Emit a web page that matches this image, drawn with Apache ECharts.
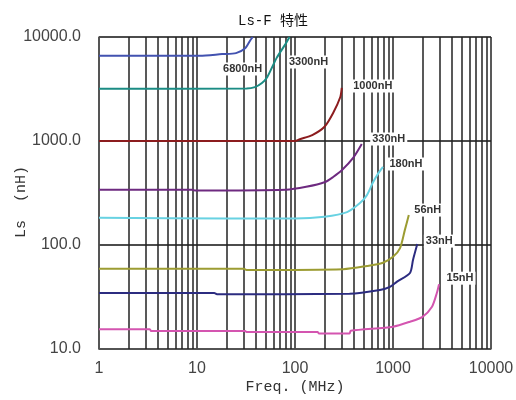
<!DOCTYPE html>
<html><head><meta charset="utf-8">
<script src="https://cdn.jsdelivr.net/npm/echarts@6/dist/echarts.min.js"></script>
<style>html,body{margin:0;padding:0;background:#fff}#c{width:516px;height:400px}</style>
</head><body><div id="c"></div>
<script>
// ---- data ----
const seriesNames = ['6800nH','3300nH','1000nH','330nH','180nH','56nH','33nH','15nH'];

const freq6800 = [1, 10.7, 18, 25, 31, 35, 37];
const ls6800   = [6600, 6600, 6850, 7000, 7800, 9300, 10000];

const freq3300 = [1, 32, 39, 46, 52, 65, 79, 88];
const ls3300   = [3180, 3200, 3300, 3610, 4100, 6300, 8400, 10000];

const freq1000 = [1, 100, 112, 150, 200, 245, 290, 300];
const ls1000   = [1000, 1000, 1040, 1140, 1370, 1860, 2650, 3240];

const freq330 = [1, 9, 9.5, 80, 130, 203, 245, 302, 392, 480];
const ls330   = [340, 340, 334, 340, 363, 404, 451, 526, 687, 935];

const freq180 = [1, 20, 100, 200, 340, 460, 540, 620, 700, 790];
const ls180   = [183, 180, 180, 187, 207, 253, 300, 394, 480, 563];

const freq56 = [1, 30, 32, 310, 540, 790, 1000, 1180, 1320, 1450];
const ls56   = [59, 59, 57.5, 58.5, 62.8, 67.6, 77, 93.5, 139, 194];

const freq33 = [1, 15, 16, 360, 735, 930, 1100, 1490, 1600, 1770];
const ls33   = [34.5, 34.5, 33.6, 34, 36.9, 39.5, 44.4, 53.8, 71.8, 102];

const freq15 = [1, 3.3, 3.4, 31, 32, 170, 175, 360, 370, 1000, 1490, 2000, 2500, 2800, 2950];
const ls15   = [15.5, 15.5, 14.9, 14.9, 14.6, 14.6, 14.1, 14.1, 15, 16.4, 18.3, 20.4, 25.5, 34.5, 42];

const xTickLabels = ['1','10','100','1000','10000'];
const yTickLabels = ['10.0','100.0','1000.0','10000.0'];

// ---- styling ----
const colors = ['#4252b0','#1b8c84','#8c1c1e','#6e2a80','#68d2e2','#9c9c32','#2c2c80','#d455b0'];
const labelOffsets = [[-10,32],[19,25],[31,-2],[27,-5],[23,-3],[19,-5],[22,-3],[21,-6]];
const freqs = [freq6800,freq3300,freq1000,freq330,freq180,freq56,freq33,freq15];
const vals  = [ls6800,ls3300,ls1000,ls330,ls180,ls56,ls33,ls15];

// minor vertical grid values (2..9 per decade)
const minorX = [];
for (let d = 1; d < 10000; d *= 10) for (let m = 2; m <= 9; m++) minorX.push(m * d);

const series = seriesNames.map((n, i) => ({
  name: n, type: 'line', z: 5,
  data: freqs[i].map((f, j) => [f, vals[i][j]]),
  showSymbol: false, smooth: 0.25,
  lineStyle: { color: colors[i], width: 2 },
  itemStyle: { color: colors[i] },
  endLabel: {
    show: true, formatter: '{a}', align: 'center', verticalAlign: 'middle',
    distance: 0, offset: labelOffsets[i],
    color: '#333', fontSize: 11, fontWeight: 'bold', fontFamily: 'Liberation Sans',
    backgroundColor: '#fff', padding: [1, 2]
  }
}));
series.unshift({
  type: 'line', data: [], z: 1, silent: true,
  markLine: {
    silent: true, symbol: ['none','none'], label: { show: false },
    lineStyle: { color: '#222', width: 1.5, type: 'solid' },
    data: minorX.map(v => ({ xAxis: v })), animation: false
  }
});

const chart = echarts.init(document.getElementById('c'));
chart.setOption({
  animation: false,
  backgroundColor: '#fff',
  title: {
    text: 'Ls-F 特性', left: 268, top: 9, textAlign: 'center',
    textStyle: { fontFamily: 'Liberation Mono, Noto Sans CJK SC', fontSize: 14, fontWeight: 'normal', color: '#111' }
  },
  grid: { left: 99, right: 25, top: 37, bottom: 51, containLabel: false, outerBoundsMode: 'none' },
  xAxis: {
    type: 'log', logBase: 10, min: 1, max: 10000,
    name: 'Freq. (MHz)', nameLocation: 'middle', nameGap: 31, nameMoveOverlap: false,
    nameTextStyle: { fontFamily: 'Liberation Mono', fontSize: 15, color: '#333' },
    axisLine: { show: true, lineStyle: { color: '#555', width: 1.5 } },
    axisTick: { show: false },
    axisLabel: { fontFamily: 'Liberation Sans', fontSize: 16, color: '#444', margin: 12,
      formatter: v => xTickLabels[Math.round(Math.log10(v))] },
    splitLine: { show: true, lineStyle: { color: '#222', width: 1.5 } }
  },
  yAxis: {
    type: 'log', logBase: 10, min: 10, max: 10000,
    name: 'Ls  (nH)  ', nameLocation: 'middle', nameGap: 70, nameMoveOverlap: false,
    nameTextStyle: { fontFamily: 'Liberation Mono', fontSize: 15, color: '#333' },
    axisLine: { show: true, lineStyle: { color: '#555', width: 1.5 } },
    axisTick: { show: false },
    axisLabel: { fontFamily: 'Liberation Sans', fontSize: 16, color: '#444', margin: 18,
      formatter: v => yTickLabels[Math.round(Math.log10(v)) - 1] },
    splitLine: { show: true, lineStyle: { color: '#111', width: 1.5 } }
  },
  series: series
});
</script></body></html>
